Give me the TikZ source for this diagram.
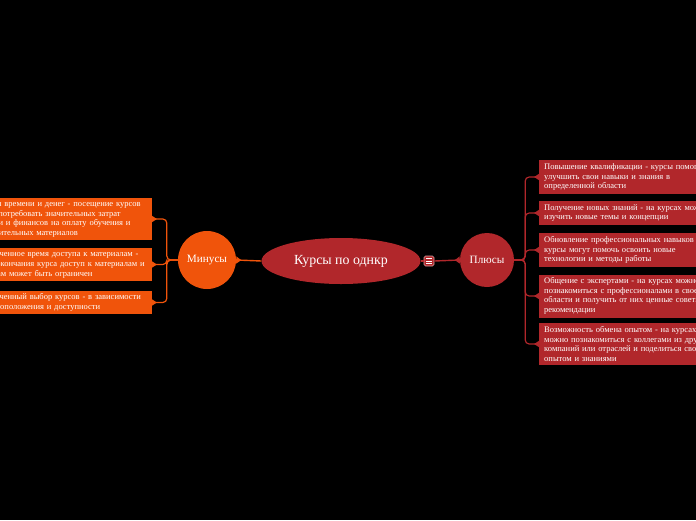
\documentclass[tikz,border=0pt]{standalone}
\usepackage{fontspec}
\setmainfont{Liberation Serif}
\usetikzlibrary{arrows.meta, positioning, shapes.geometric}
\definecolor{bgblack}{HTML}{000000}
\definecolor{burnt}{HTML}{F0540B}
\definecolor{crimson}{HTML}{B1272B}

\begin{document}
\begin{tikzpicture}[x=1pt, y=-1pt,
  hub/.style={circle, fill=#1, text=white, inner sep=0pt,
    font=\fontsize{11.2}{13}\selectfont},
  card/.style={fill=#1, text=white, text width=174pt, align=left,
    inner xsep=5pt, inner ysep=3pt, font=\fontsize{8.5}{9.7}\selectfont},
  link/.style={draw=#1, line width=1.4pt,
    -{Triangle[reversed, length=5pt, width=7pt]}},
  fork/.style={draw=#1, line width=1.2pt, rounded corners=4pt,
    -{Triangle[reversed, length=5pt, width=6pt]}},
]

% Background canvas
\fill[bgblack] (0,0) rectangle (696,520);
\useasboundingbox (0,0) rectangle (696,520);
\clip (0,0) rectangle (696,520);

% === Central topic ===
\node[ellipse, fill=crimson, text=white, minimum width=159pt, minimum height=46pt,
  font=\fontsize{13.9}{16}\selectfont] (root) at (341,261) {Курсы по однкр};

% === Menu icon ===
\node[draw=white!55!crimson, fill=crimson, line width=0.6pt, rounded corners=1.5pt,
  minimum size=10pt, inner sep=0pt,
  path picture={
    \foreach \dy in {-2.2,0,2.2}
      \draw[white, line width=0.8pt] ([xshift=-2.6pt, yshift=\dy pt]path picture bounding box.center)
        -- ++(5.2pt,0);
  }] (menu) at (429,261) {};

% === Main branches ===
\node[hub=burnt, minimum size=58pt] (minus) at (207,260) {Минусы};
\node[hub=crimson, minimum size=54pt] (plus) at (487,260) {Плюсы};

\draw[link=burnt] (root.west) -- (minus.east);
\draw[draw=crimson, line width=1.4pt] (root.east) -- (menu.west);
\draw[link=crimson] (menu.east) -- (plus.west);

% === Минусы (left, burnt) ===
\node[card=burnt, anchor=east] (mc1) at (152,219)
  {Затраты времени и денег - посещение курсов\\может потребовать значительных затрат\\времени и финансов на оплату обучения и\\дополнительных материалов};
\node[card=burnt, anchor=east] (mc2) at (152,264.5)
  {Ограниченное время доступа к материалам -\\после окончания курса доступ к материалам и\\ресурсам может быть ограничен};
\node[card=burnt, anchor=east] (mc3) at (152,302.5)
  {Ограниченный выбор курсов - в зависимости\\от местоположения и доступности};

\foreach \c in {mc1,mc2,mc3}
  \draw[fork=burnt] (minus.west) -- ++(-11,0) |- (\c.east);

% === Плюсы (right, crimson) ===
\node[card=crimson, anchor=west] (pc1) at (539,177)
  {Повышение квалификации - курсы помогают\\улучшить свои навыки и знания в\\определенной области};
\node[card=crimson, anchor=west] (pc2) at (539,213)
  {Получение новых знаний - на курсах можно\\изучить новые темы и концепции};
\node[card=crimson, anchor=west] (pc3) at (539,250)
  {Обновление профессиональных навыков -\\курсы могут помочь освоить новые\\технологии и методы работы};
\node[card=crimson, anchor=west] (pc4) at (539,296)
  {Общение с экспертами - на курсах можно\\познакомиться с профессионалами в своей\\области и получить от них ценные советы и\\рекомендации};
\node[card=crimson, anchor=west] (pc5) at (539,344)
  {Возможность обмена опытом - на курсах\\можно познакомиться с коллегами из других\\компаний или отраслей и поделиться своим\\опытом и знаниями};

\foreach \c in {pc1,pc2,pc3,pc4,pc5}
  \draw[fork=crimson] (plus.east) -- ++(11,0) |- (\c.west);

\end{tikzpicture}
\end{document}
